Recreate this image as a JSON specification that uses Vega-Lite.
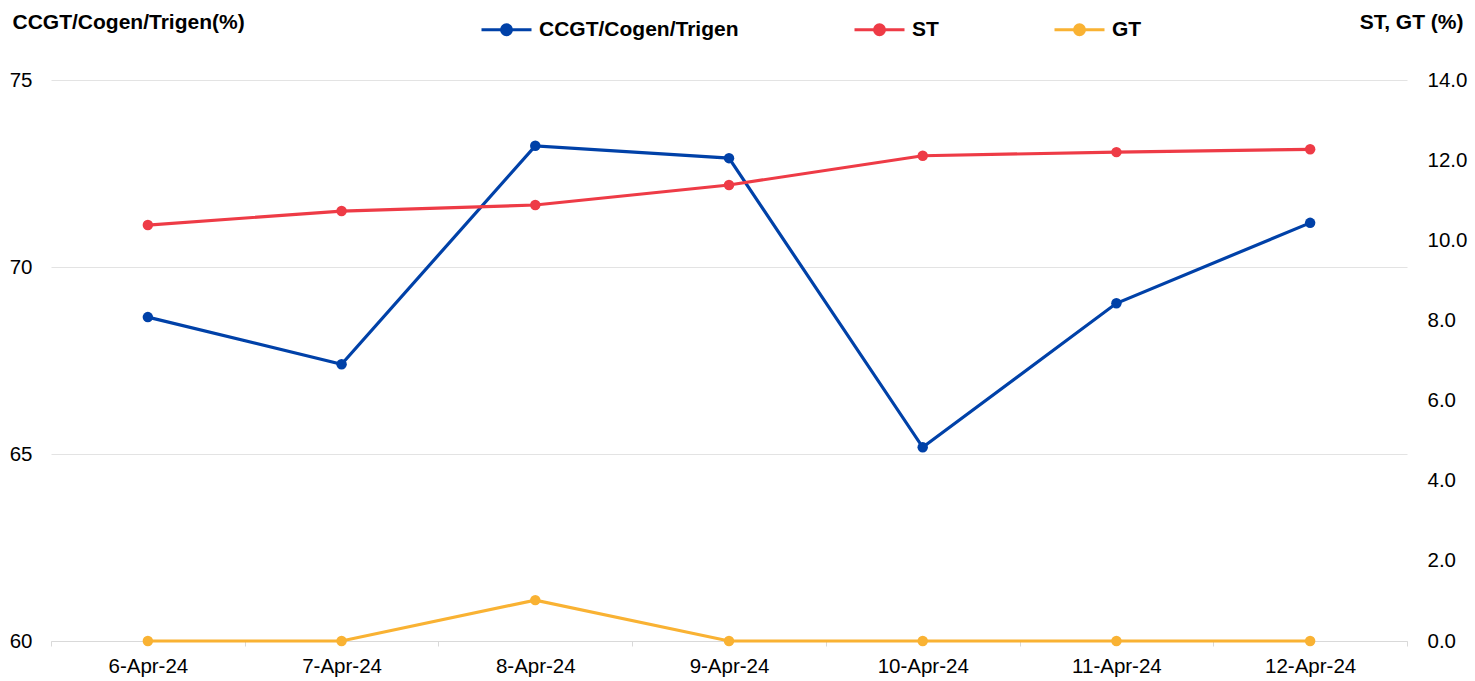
{
  "$schema": "https://vega.github.io/schema/vega-lite/v6.json",
  "width": 1356,
  "height": 561,
  "autosize": {"type": "none"},
  "padding": {"left": 51, "top": 80, "right": 68, "bottom": 40},
  "background": "white",
  "config": {
    "view": {"stroke": null},
    "font": "Liberation Sans",
    "axis": {"labelFont": "Liberation Sans", "titleFont": "Liberation Sans", "labelColor": "#000", "titleColor": "#000"},
    "legend": {"labelFont": "Liberation Sans"}
  },
  "data": {
    "values": [
      {"date": "6-Apr-24", "series": "CCGT/Cogen/Trigen", "value": 68.66},
      {"date": "7-Apr-24", "series": "CCGT/Cogen/Trigen", "value": 67.40},
      {"date": "8-Apr-24", "series": "CCGT/Cogen/Trigen", "value": 73.24},
      {"date": "9-Apr-24", "series": "CCGT/Cogen/Trigen", "value": 72.91},
      {"date": "10-Apr-24", "series": "CCGT/Cogen/Trigen", "value": 65.18},
      {"date": "11-Apr-24", "series": "CCGT/Cogen/Trigen", "value": 69.03},
      {"date": "12-Apr-24", "series": "CCGT/Cogen/Trigen", "value": 71.18},
      {"date": "6-Apr-24", "series": "ST", "value": 10.38},
      {"date": "7-Apr-24", "series": "ST", "value": 10.73},
      {"date": "8-Apr-24", "series": "ST", "value": 10.88},
      {"date": "9-Apr-24", "series": "ST", "value": 11.38},
      {"date": "10-Apr-24", "series": "ST", "value": 12.11},
      {"date": "11-Apr-24", "series": "ST", "value": 12.20},
      {"date": "12-Apr-24", "series": "ST", "value": 12.27},
      {"date": "6-Apr-24", "series": "GT", "value": 0},
      {"date": "7-Apr-24", "series": "GT", "value": 0},
      {"date": "8-Apr-24", "series": "GT", "value": 1.02},
      {"date": "9-Apr-24", "series": "GT", "value": 0},
      {"date": "10-Apr-24", "series": "GT", "value": 0},
      {"date": "11-Apr-24", "series": "GT", "value": 0},
      {"date": "12-Apr-24", "series": "GT", "value": 0}
    ]
  },
  "encoding": {
    "x": {
      "field": "date", "type": "ordinal", "sort": null,
      "scale": {"type": "band", "paddingInner": 0, "paddingOuter": 0},
      "axis": {"title": null, "labelAngle": 0, "labelFontSize": 20.5, "tickBand": "extent", "tickColor": "#d9d9d9", "tickSize": 5, "domainColor": "#d9d9d9", "domainWidth": 1, "labelPadding": 10, "grid": false}
    },
    "color": {
      "field": "series", "type": "nominal",
      "scale": {"domain": ["CCGT/Cogen/Trigen", "ST", "GT"], "range": ["#0041a8", "#ee3b46", "#f9b233"]},
      "legend": {
        "orient": "none", "legendX": 429, "legendY": -77, "direction": "horizontal", "title": null,
        "symbolType": "M-1,0H1M-0.2,0A0.2,0.2,0,1,1,0.2,0A0.2,0.2,0,1,1,-0.2,0Z",
        "symbolSize": 2500, "symbolStrokeWidth": 3,
        "labelFontSize": 21, "labelFontWeight": "bold", "labelColor": "#000", "labelLimit": 0,
        "columnPadding": 109, "labelOffset": 6,
        "encode": {"symbols": {"update": {"fill": {"scale": "color", "field": "value"}, "stroke": {"scale": "color", "field": "value"}, "fillOpacity": {"value": 1}}}}
      }
    }
  },
  "layer": [
    {
      "transform": [{"filter": "datum.series === 'CCGT/Cogen/Trigen'"}],
      "mark": {"type": "line", "strokeWidth": 3.2, "point": {"filled": true, "size": 110}},
      "encoding": {
        "y": {
          "field": "value", "type": "quantitative",
          "scale": {"domain": [60, 75], "zero": false, "nice": false},
          "axis": {"values": [60, 65, 70, 75], "title": "CCGT/Cogen/Trigen(%)", "titleAngle": 0, "titleAlign": "left", "titleBaseline": "middle", "titleX": -39, "titleY": -58, "titleFontSize": 21, "titleFontWeight": "bold", "labelFontSize": 20.5, "labelPadding": 19, "ticks": false, "tickSize": 0, "domain": false, "grid": true, "gridColor": "#e3e3e3"}
        }
      }
    },
    {
      "transform": [{"filter": "datum.series !== 'CCGT/Cogen/Trigen'"}],
      "mark": {"type": "line", "strokeWidth": 3.2, "point": {"filled": true, "size": 110}},
      "encoding": {
        "y": {
          "field": "value", "type": "quantitative",
          "scale": {"domain": [0, 14], "nice": false},
          "axis": {"orient": "right", "values": [0, 2, 4, 6, 8, 10, 12, 14], "format": ".1f", "title": "ST, GT (%)", "titleAngle": 0, "titleAlign": "right", "titleBaseline": "middle", "titleX": 56, "titleY": -58, "titleFontSize": 21, "titleFontWeight": "bold", "labelFontSize": 20.5, "labelPadding": 20, "ticks": false, "tickSize": 0, "domain": false, "grid": false}
        }
      }
    }
  ],
  "resolve": {"scale": {"y": "independent"}}
}
